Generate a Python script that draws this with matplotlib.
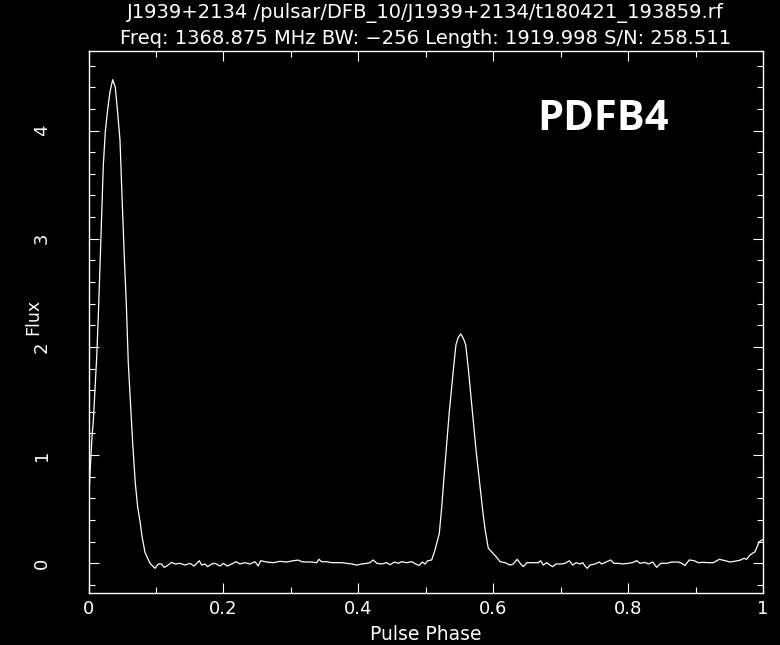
import matplotlib
matplotlib.use("Agg")
import matplotlib.pyplot as plt
from matplotlib.ticker import MultipleLocator

title_line1 = "J1939+2134 /pulsar/DFB_10/J1939+2134/t180421_193859.rf"
title_line2 = "Freq: 1368.875 MHz BW: \u2212256 Length: 1919.998 S/N: 258.511"
xlabel = "Pulse Phase"
ylabel = "Flux"
tag = "PDFB4"

phase = [
    0.0000, 0.0022, 0.0052, 0.0071, 0.0096, 0.0122, 0.0145, 0.0170, 0.0196, 0.0219,
    0.0249, 0.0285, 0.0319, 0.0359, 0.0397, 0.0433, 0.0467, 0.0497, 0.0531, 0.0560,
    0.0590, 0.0626, 0.0655, 0.0694, 0.0729, 0.0768, 0.0793, 0.0838, 0.0882, 0.0912,
    0.0986, 0.1035, 0.1085, 0.1119, 0.1159, 0.1233, 0.1282, 0.1357, 0.1431, 0.1505,
    0.1564, 0.1643, 0.1678, 0.1727, 0.1767, 0.1827, 0.1875, 0.1950, 0.1999, 0.2058,
    0.2123, 0.2187, 0.2246, 0.2320, 0.2394, 0.2468, 0.2517, 0.2553, 0.2642, 0.2740,
    0.2839, 0.2938, 0.3036, 0.3110, 0.3161, 0.3225, 0.3309, 0.3383, 0.3417, 0.3457,
    0.3532, 0.3609, 0.3680, 0.3754, 0.3828, 0.3902, 0.3977, 0.4050, 0.4125, 0.4173,
    0.4222, 0.4273, 0.4347, 0.4421, 0.4470, 0.4534, 0.4593, 0.4643, 0.4718, 0.4792,
    0.4851, 0.4900, 0.4949, 0.4989, 0.5029, 0.5088, 0.5137, 0.5201, 0.5237, 0.5271,
    0.5311, 0.5349, 0.5385, 0.5419, 0.5448, 0.5483, 0.5518, 0.5557, 0.5592, 0.5631,
    0.5666, 0.5705, 0.5745, 0.5794, 0.5844, 0.5878, 0.5927, 0.6001, 0.6076, 0.6101,
    0.6175, 0.6249, 0.6298, 0.6357, 0.6408, 0.6446, 0.6497, 0.6594, 0.6669, 0.6704,
    0.6743, 0.6793, 0.6842, 0.6882, 0.6931, 0.7016, 0.7065, 0.7128, 0.7179, 0.7228,
    0.7287, 0.7327, 0.7361, 0.7395, 0.7435, 0.7509, 0.7573, 0.7609, 0.7672, 0.7742,
    0.7791, 0.7855, 0.7920, 0.8003, 0.8077, 0.8128, 0.8176, 0.8251, 0.8299, 0.8365,
    0.8424, 0.8483, 0.8572, 0.8646, 0.8744, 0.8795, 0.8844, 0.8907, 0.8977, 0.9041,
    0.9106, 0.9189, 0.9263, 0.9352, 0.9437, 0.9511, 0.9600, 0.9669, 0.9718, 0.9758,
    0.9807, 0.9881, 0.9945, 1.0000,
]

flux = [
    0.51, 0.83, 1.17, 1.31, 1.60, 1.91, 2.28, 2.74, 3.25, 3.67,
    3.99, 4.20, 4.36, 4.47, 4.40, 4.16, 3.91, 3.39, 2.83, 2.41,
    1.85, 1.44, 1.11, 0.74, 0.52, 0.37, 0.25, 0.10, 0.04, 0.00,
    -0.046, -0.006, -0.006, -0.037, -0.025, 0.009, -0.006, 0.000, -0.016, 0.000,
    -0.025, 0.024, -0.016, -0.006, -0.031, -0.006, 0.000, -0.025, 0.000, -0.025,
    -0.006, 0.015, -0.006, 0.006, -0.006, 0.015, -0.025, 0.024, 0.012, 0.006,
    0.018, 0.012, 0.024, 0.030, 0.015, 0.012, 0.012, 0.006, 0.037, 0.015,
    0.015, 0.006, 0.006, 0.006, 0.000, -0.006, -0.016, -0.006, 0.000, 0.006,
    0.031, 0.000, -0.006, 0.006, -0.013, 0.012, 0.000, 0.015, 0.006, 0.015,
    -0.006, -0.019, 0.012, -0.006, 0.024, 0.031, 0.123, 0.277, 0.523, 0.80,
    1.11, 1.40, 1.63, 1.85, 2.02, 2.09, 2.12, 2.08, 2.02, 1.80,
    1.57, 1.32, 1.05, 0.77, 0.49, 0.32, 0.14, 0.09, 0.037, 0.015,
    0.006, -0.016, -0.006, 0.037, -0.006, -0.031, 0.006, 0.006, 0.006, 0.024,
    -0.016, 0.006, -0.016, -0.031, -0.006, -0.006, 0.000, 0.024, -0.016, 0.006,
    -0.006, 0.006, -0.025, -0.046, -0.016, -0.006, 0.012, -0.006, 0.012, 0.031,
    0.000, 0.000, -0.006, 0.000, 0.009, 0.025, 0.000, 0.009, -0.006, 0.012,
    -0.037, 0.000, 0.000, 0.012, 0.012, 0.000, -0.019, 0.031, 0.025, 0.006,
    0.009, 0.006, 0.006, 0.037, 0.025, 0.012, 0.021, 0.031, 0.046, 0.037,
    0.077, 0.107, 0.200, 0.220,
]

fg = "white"
plt.rcParams['font.family'] = ['DejaVu Sans']

fig = plt.figure(figsize=(7.8, 6.45), dpi=100, facecolor="black")
ax = fig.add_axes([88.5 / 780, 1 - 593.3 / 645, (763 - 88.5) / 780, (593.3 - 51) / 645])
ax.set_facecolor("black")

ax.plot(phase, flux, color=fg, lw=0.9)

ax.set_xlim(0, 1)
ax.set_ylim(-0.277, 4.735)

ax.xaxis.set_minor_locator(MultipleLocator(0.1))
ax.yaxis.set_minor_locator(MultipleLocator(0.2))
ax.set_xticks([0, 0.2, 0.4, 0.6, 0.8, 1.0])
ax.set_xticklabels(["0", "0.2", "0.4", "0.6", "0.8", "1"])
ax.set_yticks([0, 1, 2, 3, 4])
ax.set_yticklabels(["0", "1", "2", "3", "4"])

for s in ax.spines.values():
    s.set_color(fg)
    s.set_linewidth(1.0)

ax.tick_params(which="both", direction="in", top=True, right=True, colors=fg, width=0.8)
ax.tick_params(which="major", length=7.2)
ax.tick_params(which="minor", length=4.3)
ax.tick_params(axis="x", which="major", labelsize=13, pad=5)
ax.tick_params(axis="y", which="major", labelsize=13, pad=27, labelrotation=90)
for lbl in ax.get_yticklabels():
    lbl.set_va("center")

fig.text(425.75 / 780, 1 - 13 / 645, title_line1, color=fg, fontsize=14, ha="center", va="center")
fig.text(425.75 / 780, 1 - 39 / 645, title_line2, color=fg, fontsize=14, ha="center", va="center")
fig.text(425.75 / 780, 1 - 635 / 645, xlabel, color=fg, fontsize=13.5, ha="center", va="center")
fig.text(33 / 780, 1 - 317 / 645, ylabel, color=fg, fontsize=12.5, ha="center", va="center", rotation=90)
fig.text(603 / 780, 1 - 120 / 645, tag, color=fg, fontsize=30, fontweight="bold",
         family="Open Sans", ha="center", va="center")

fig.savefig("out.png", dpi=100, facecolor="black")
